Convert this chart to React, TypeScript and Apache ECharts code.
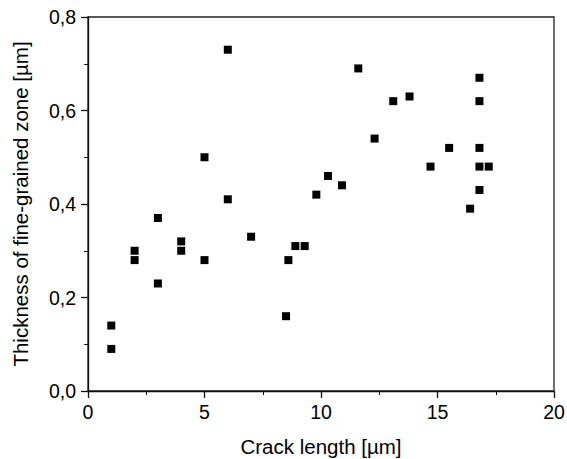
import React, { useEffect, useRef } from "react";
import * as echarts from "echarts";

const crackLength = [1, 1, 2, 2, 3, 3, 4, 4, 5, 5, 6, 6, 7, 8.5, 8.6, 8.9, 9.3, 9.8, 10.3, 10.9, 11.6, 12.3, 13.1, 13.8, 14.7, 15.5, 16.4, 16.8, 16.8, 16.8, 16.8, 16.8, 17.2];
const thickness = [0.14, 0.09, 0.30, 0.28, 0.37, 0.23, 0.32, 0.30, 0.50, 0.28, 0.73, 0.41, 0.33, 0.16, 0.28, 0.31, 0.31, 0.42, 0.46, 0.44, 0.69, 0.54, 0.62, 0.63, 0.48, 0.52, 0.39, 0.67, 0.62, 0.52, 0.48, 0.43, 0.48];

const xTitle = "Crack length [µm]";
const yTitle = "Thickness of fine-grained zone [µm]";

export default function App() {
  const ref = useRef<HTMLDivElement>(null);
  useEffect(() => {
    if (!ref.current) return;
    const chart = echarts.init(ref.current, undefined, { renderer: "svg" });
    const font = "Liberation Sans, Arial, sans-serif";
    const lineStyle = { color: "#111", width: 1.3 };
    chart.setOption({
      animation: false,
      backgroundColor: "#fff",
      grid: {
        left: 88,
        top: 17,
        right: 13,
        bottom: 68,
        outerBoundsMode: "none",
        containLabel: false,
        show: true,
        borderColor: "#222",
        borderWidth: 1.3,
      },
      xAxis: {
        type: "value",
        min: 0,
        max: 20,
        interval: 5,
        name: xTitle,
        nameLocation: "middle",
        nameGap: 45,
        nameTextStyle: { fontFamily: font, fontSize: 20.5, color: "#000" },
        axisLine: { show: true, lineStyle },
        axisTick: { show: true, inside: false, length: 7, lineStyle },
        minorTick: { show: true, splitNumber: 2, length: 4, lineStyle: { color: "#111", width: 1 } },
        splitLine: { show: false },
        axisLabel: { fontFamily: font, fontSize: 19.5, color: "#000", margin: 11 },
      },
      yAxis: {
        type: "value",
        min: 0,
        max: 0.8,
        interval: 0.2,
        name: yTitle,
        nameLocation: "middle",
        nameGap: 57,
        nameTextStyle: { fontFamily: font, fontSize: 20.5, color: "#000" },
        axisLine: { show: true, lineStyle },
        axisTick: { show: true, inside: false, length: 7, lineStyle },
        minorTick: { show: true, splitNumber: 2, length: 4, lineStyle: { color: "#111", width: 1 } },
        splitLine: { show: false },
        axisLabel: {
          fontFamily: font,
          fontSize: 19.5,
          color: "#000",
          margin: 12,
          formatter: (v: number) => v.toFixed(1).replace(".", ","),
        },
      },
      series: [
        {
          type: "scatter",
          symbol: "rect",
          symbolSize: 8,
          itemStyle: { color: "#000", opacity: 1 },
          data: crackLength.map((x, i) => [x, thickness[i]]),
        },
      ],
    });
    return () => chart.dispose();
  }, []);
  return <div ref={ref} style={{ width: 567, height: 459, position: "absolute", left: 0, top: 0 }} />;
}
